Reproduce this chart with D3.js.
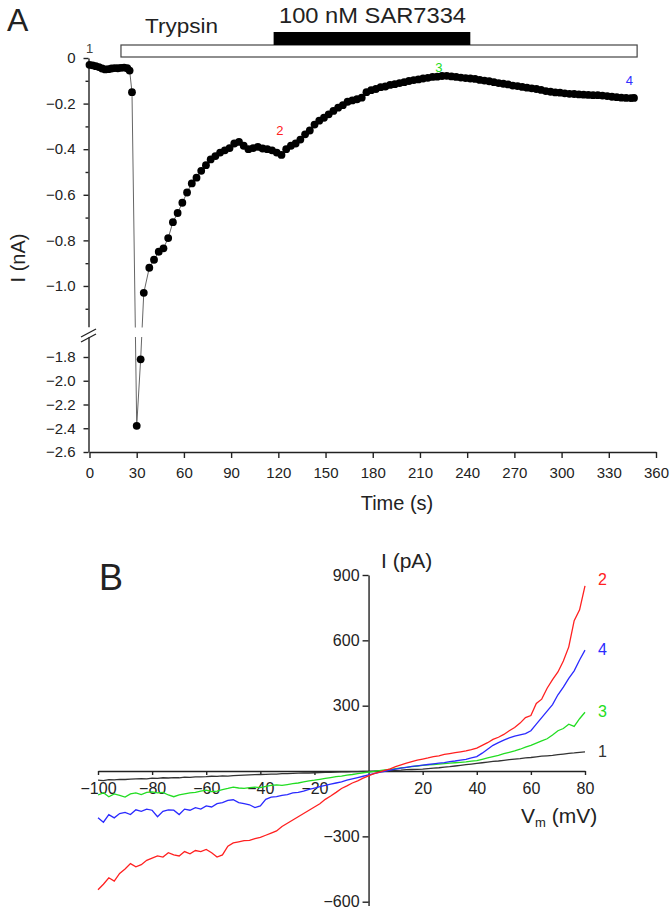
<!DOCTYPE html>
<html><head><meta charset="utf-8">
<script src="https://cdn.jsdelivr.net/npm/d3@7"></script>
<style>
body{margin:0;background:#fff}
text{font-family:"Liberation Sans",Arial,sans-serif;fill:#222}
</style></head>
<body><svg id="c" width="670" height="912"></svg>
<script>
// ---------- Panel A data ----------
const timeS = [0,2,4,6,8,10,12,14,16,18,20,22,24,25.5,27,30,32.5,34.5,
 38,41,44,47,50,53,56,59,62,65,68,71,74,77,80,83,86,89,92,95,98,101,104,107,110,113,116,119,122,125,128,131,134,
 137,140,143,146,149,152,155,158,161,164,167,170,173,176,179,182,185,188,191,194,197,200,203,206,209,212,215,218,221,224,227,
 230,233,236,239,242,245,248,251,254,257,260,263,266,269,272,275,278,281,284,287,290,293,296,299,302,305,308,311,314,317,320,
 323,326,329,332,335,338,341,344,346];
const currentNA = [-0.030,-0.032,-0.036,-0.040,-0.046,-0.050,-0.049,-0.046,-0.044,-0.045,-0.043,-0.042,-0.045,-0.055,-0.150,-2.38,-1.82,-1.03,
 -0.920,-0.885,-0.850,-0.835,-0.790,-0.720,-0.680,-0.635,-0.590,-0.550,-0.525,-0.495,-0.470,-0.445,-0.430,-0.415,-0.405,-0.395,-0.375,-0.368,-0.385,-0.400,-0.395,-0.390,-0.397,-0.400,-0.405,-0.415,-0.425,-0.400,-0.385,-0.375,-0.358,
 -0.335,-0.318,-0.292,-0.275,-0.262,-0.247,-0.232,-0.218,-0.207,-0.192,-0.186,-0.181,-0.174,-0.150,-0.141,-0.136,-0.128,-0.125,-0.118,-0.115,-0.110,-0.106,-0.101,-0.097,-0.094,-0.090,-0.087,-0.083,-0.082,-0.079,-0.078,
 -0.081,-0.083,-0.086,-0.088,-0.090,-0.092,-0.096,-0.099,-0.102,-0.106,-0.110,-0.113,-0.116,-0.121,-0.123,-0.127,-0.130,-0.133,-0.136,-0.140,-0.145,-0.148,-0.151,-0.152,-0.155,-0.157,-0.158,-0.160,-0.161,-0.162,-0.163,
 -0.163,-0.165,-0.167,-0.170,-0.172,-0.174,-0.175,-0.176,-0.175];
const yTicksUpper = [0,-0.2,-0.4,-0.6,-0.8,-1.0];
const yMinorUpper = [-0.1,-0.3,-0.5,-0.7,-0.9,-1.1];
const yTicksLower = [-1.8,-2.0,-2.2,-2.4,-2.6];
const xTicksA = [0,30,60,90,120,150,180,210,240,270,300,330,360];
const trypsinSpan = [20,348];
const sarSpan = [117,242];
const pointLabelsA = [{t:0,v:0.022,text:"1",c:"#444"},{t:121,v:-0.338,text:"2",c:"#ff2020"},{t:222,v:-0.061,text:"3",c:"#22dd22"},{t:343,v:-0.118,text:"4",c:"#3030ff"}];

// ---------- Panel B data ----------
const voltageMV = [-100,-98,-96,-94,-92,-90,-88,-86,-84,-82,-80,-78,-76,-74,-72,-70,-68,-66,-64,-62,-60,-58,-56,-54,-52,-50,-48,-46,-44,-42,-40,-38,-36,-34,-32,-30,-28,-26,-24,-22,-20,-18,-16,-14,-12,-10,-8,-6,-4,-2,0,2,4,6,8,10,12,14,16,18,20,22,24,26,28,30,32,34,36,38,40,42,44,46,48,50,52,54,56,58,60,62,64,66,68,70,72,74,76,78,80];
const trace1 = [-42,-44,-40,-41,-38,-39,-37,-36,-35,-36,-33,-34,-31,-32,-30,-31,-28,-29,-27,-27,-26,-24,-25,-22,-23,-21,-20,-19,-18,-17,-16,-15,-14,-14,-12,-12,-11,-10,-9,-9,-8,-7,-6,-6,-5,-4,-4,-3,-3,-2,-2,-1,0,1,2,3,4,6,7,8,9,11,13,15,18,20,23,26,29,32,35,38,41,44,46,49,52,55,57,60,62,65,68,70,72,75,78,81,83,86,88];
const trace2 = [-545,-520,-490,-505,-470,-450,-425,-440,-430,-410,-400,-390,-395,-375,-385,-390,-370,-380,-365,-370,-360,-375,-395,-385,-345,-330,-325,-320,-318,-310,-305,-295,-285,-275,-255,-240,-225,-210,-195,-180,-165,-150,-130,-115,-98,-80,-68,-55,-45,-33,-22,-12,-5,3,10,20,28,36,43,50,55,60,66,70,76,80,84,88,92,98,105,118,130,145,155,168,185,200,220,245,255,310,330,380,420,455,505,570,690,740,850];
const trace3 = [-110,-100,-118,-105,-112,-120,-105,-100,-108,-98,-96,-100,-98,-110,-118,-110,-105,-100,-98,-92,-88,-95,-92,-85,-80,-74,-78,-80,-76,-74,-76,-70,-66,-64,-66,-62,-58,-55,-50,-45,-42,-38,-34,-30,-26,-23,-19,-16,-12,-8,-5,-2,2,5,8,11,14,17,20,23,26,28,30,32,34,36,38,40,42,45,48,54,60,66,72,80,86,92,100,110,118,128,138,148,165,185,195,215,205,240,270];
const trace4 = [-215,-235,-200,-215,-195,-190,-200,-178,-185,-175,-180,-210,-185,-178,-180,-200,-175,-180,-168,-175,-160,-165,-150,-145,-135,-132,-145,-150,-155,-168,-160,-130,-120,-118,-112,-108,-100,-98,-92,-84,-78,-72,-66,-60,-55,-50,-42,-36,-30,-24,-18,-12,-6,-1,4,9,13,17,21,24,27,30,33,36,39,43,46,50,53,60,66,82,100,118,130,142,152,160,166,172,185,215,245,275,305,350,385,425,460,510,555];
const xTicksB = [-100,-80,-60,-40,-20,20,40,60,80];
const yTicksB = [900,600,300,-300,-600];
const seriesB = [{name:"1",vals:trace1,color:"#333333"},{name:"3",vals:trace3,color:"#22dd22"},{name:"4",vals:trace4,color:"#2a2aff"},{name:"2",vals:trace2,color:"#ff2020"}];

const svg = d3.select("#c");
const AX = "#222";

// ===== Panel A =====
const xA = d3.scaleLinear().domain([0,360]).range([89.5,656]);
const yUp = d3.scaleLinear().domain([0,-1.18]).range([58,327]);
const yLo = d3.scaleLinear().domain([-1.63,-2.6]).range([336.8,452]);
const yA = v => v > -1.4 ? yUp(v) : yLo(v);
const fmt = d => d===0 ? "0" : "\u2212" + Math.abs(d).toFixed(1);

function styleAxis(g){
  g.selectAll("path,line").attr("stroke",AX).attr("stroke-width",1.4);
  g.selectAll("text").attr("fill","#333");
}
const gA = svg.append("g");
gA.append("g").attr("transform","translate(88.5,0)")
  .call(d3.axisLeft(yUp).tickValues(yTicksUpper).tickFormat(fmt).tickSize(5).tickPadding(8).tickSizeOuter(0))
  .call(g=>g.selectAll("text").attr("font-size",15))
  .call(styleAxis);
gA.append("g").attr("transform","translate(88.5,0)")
  .call(d3.axisLeft(yUp).tickValues(yMinorUpper).tickFormat("").tickSize(3).tickSizeOuter(0))
  .call(g=>g.select(".domain").remove())
  .call(styleAxis);
gA.append("g").attr("transform","translate(88.5,0)")
  .call(d3.axisLeft(yLo).tickValues(yTicksLower).tickFormat(fmt).tickSize(5).tickPadding(8).tickSizeOuter(0))
  .call(g=>g.selectAll("text").attr("font-size",15))
  .call(styleAxis);
gA.append("g").attr("transform","translate(0,452)")
  .call(d3.axisBottom(xA).tickValues(xTicksA).tickSize(6).tickPadding(9).tickSizeOuter(0))
  .call(g=>g.selectAll("text").attr("font-size",15))
  .call(styleAxis);
// break marks
gA.append("rect").attr("x",84).attr("y",327.5).attr("width",9).attr("height",9).attr("fill","#fff");
gA.append("line").attr("x1",81).attr("y1",337).attr("x2",96).attr("y2",329).attr("stroke",AX).attr("stroke-width",1.4);
gA.append("line").attr("x1",81).attr("y1",342).attr("x2",96).attr("y2",334).attr("stroke",AX).attr("stroke-width",1.4);

const ptsA = timeS.map((t,i)=>({t, v:currentNA[i]}));
gA.append("path").datum(ptsA)
  .attr("d", d3.line().x(d=>xA(d.t)).y(d=>yA(d.v)))
  .attr("fill","none").attr("stroke","#666").attr("stroke-width",1);
gA.append("rect").attr("x",100).attr("y",327.5).attr("width",80).attr("height",9.5).attr("fill","#fff");
gA.selectAll("circle").data(ptsA).join("circle")
  .attr("cx",d=>xA(d.t)).attr("cy",d=>yA(d.v)).attr("r",3.9).attr("fill","#000");

// bars
gA.append("rect").attr("x",xA(trypsinSpan[0])).attr("y",45)
  .attr("width",xA(trypsinSpan[1])-xA(trypsinSpan[0])).attr("height",12)
  .attr("fill","#fff").attr("stroke","#444").attr("stroke-width",1.2);
gA.append("rect").attr("x",xA(sarSpan[0])).attr("y",32)
  .attr("width",xA(sarSpan[1])-xA(sarSpan[0])).attr("height",13).attr("fill","#000");
gA.append("text").attr("x",145).attr("y",33).attr("font-size",21)
  .attr("textLength",73).attr("lengthAdjust","spacingAndGlyphs").text("Trypsin");
gA.append("text").attr("x",279).attr("y",23).attr("font-size",22)
  .attr("textLength",187).attr("lengthAdjust","spacingAndGlyphs").text("100 nM SAR7334");
gA.append("text").attr("x",7).attr("y",31).attr("font-size",32).text("A");
gA.selectAll(".pl").data(pointLabelsA).join("text").attr("class","pl")
  .attr("x",d=>xA(d.t)).attr("y",d=>yUp(d.v)).attr("text-anchor","middle")
  .attr("font-size",13).style("fill",d=>d.c).text(d=>d.text);
gA.append("text").attr("x",397).attr("y",510).attr("text-anchor","middle").attr("font-size",20).text("Time (s)");
gA.append("text").attr("transform","translate(25,258) rotate(-90)").attr("text-anchor","middle").attr("font-size",20).text("I (nA)");

// ===== Panel B =====
const xB = d3.scaleLinear().domain([-100,80]).range([98,585]);
const yB = d3.scaleLinear().domain([-600,900]).range([901.7,575]);
const fmtB = d => d<0 ? "\u2212"+Math.abs(d) : String(d);
const gB = svg.append("g");
gB.append("g").attr("transform",`translate(0,${yB(0)})`)
  .call(d3.axisBottom(xB).tickValues(xTicksB).tickFormat(fmtB).tickSize(4).tickPadding(8).tickSizeOuter(0))
  .call(g=>g.selectAll("text").attr("font-size",16))
  .call(styleAxis);
gB.append("g").attr("transform",`translate(${xB(0)},0)`)
  .call(d3.axisLeft(yB).tickValues(yTicksB).tickFormat(fmtB).tickSize(6).tickPadding(3).tickSizeOuter(0))
  .call(g=>g.selectAll("text").attr("font-size",16))
  .call(styleAxis);
gB.append("line").attr("x1",xB(0)+0.5).attr("x2",xB(0)+0.5).attr("y1",yB(-600)).attr("y2",906)
  .attr("stroke",AX).attr("stroke-width",1.4);

const lineB = d3.line().x((d,i)=>xB(voltageMV[i])).y(d=>yB(d));
gB.selectAll(".tr").data(seriesB).join("path").attr("class","tr")
  .attr("d",d=>lineB(d.vals)).attr("fill","none")
  .attr("stroke",d=>d.color).attr("stroke-width",1.3);
gB.selectAll(".sl").data(seriesB).join("text").attr("class","sl")
  .attr("x",598).attr("y",d=>yB(d.vals[d.vals.length-1])+ (d.name==="2"?-1:5))
  .attr("font-size",16).style("fill",d=>d.color).text(d=>d.name);
gB.append("text").attr("x",99).attr("y",590).attr("font-size",36).text("B");
gB.append("text").attr("x",381).attr("y",568).attr("font-size",21).text("I (pA)");
const vt = gB.append("text").attr("x",521).attr("y",823).attr("font-size",21);
vt.append("tspan").text("V");
vt.append("tspan").attr("font-size",13).attr("dy",4).text("m");
vt.append("tspan").attr("dy",-4).text(" (mV)");
</script>
</body></html>
